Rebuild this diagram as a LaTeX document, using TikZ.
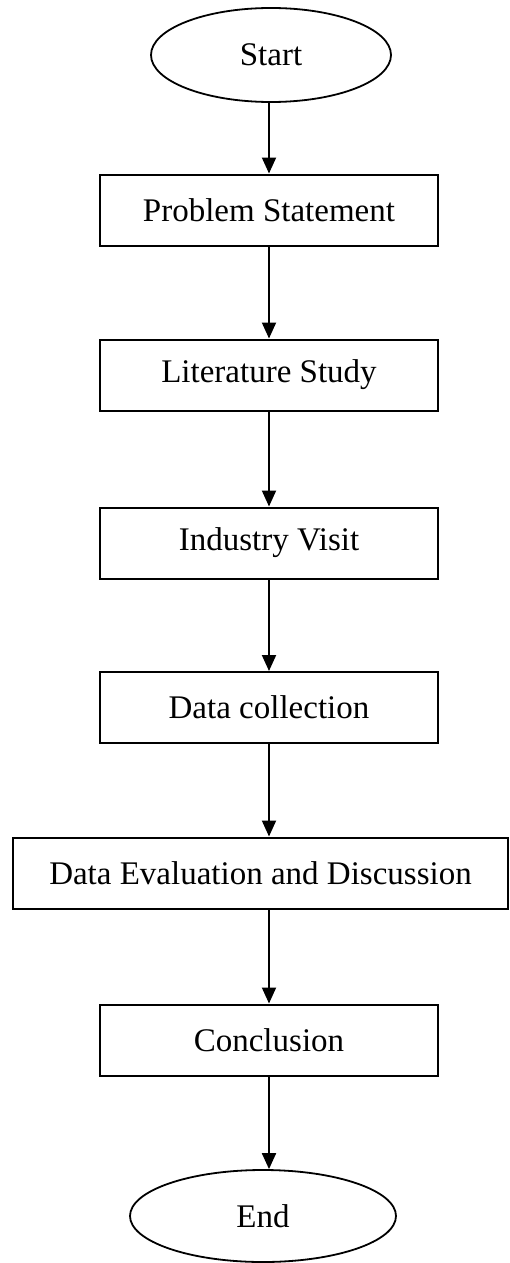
\documentclass[tikz,border=0pt]{standalone}
\usepackage{fontspec}
\setmainfont{Liberation Serif}
\usetikzlibrary{shapes.geometric,arrows.meta}

\tikzset{
  stepbox/.style={draw, line width=1pt, minimum width=169pt, minimum height=35.5pt, inner sep=0pt, font=\fontsize{16.5}{19}\selectfont},
  term/.style={draw, ellipse, line width=0.9pt, inner sep=0pt, font=\fontsize{16.5}{19}\selectfont},
  flow/.style={line width=1pt, -{Triangle[width=7pt,length=8pt]}}
}

\begin{document}
\begin{tikzpicture} [x=0.5pt, y=-0.5pt]
\useasboundingbox (0,0) rectangle (509,1263);
% start and end
\node [term, minimum width=120pt, minimum height=47pt] (start) at (271,55) {Start};
\node [term, minimum width=133pt, minimum height=46pt] (end) at (263,1216) {End};
% steps
\node [stepbox] (problem) at (269,210) {Problem Statement};
\node [stepbox] (literature) at (269,375) {Literature Study};
\node [stepbox] (visit) at (269,543) {Industry Visit};
\node [stepbox] (collection) at (269,707.5) {Data collection};
\node [stepbox, minimum width=247.5pt] (evaluation) at (260.5,873) {Data Evaluation and Discussion};
\node [stepbox] (conclusion) at (269,1040) {Conclusion};
% arrows
\draw [flow] (problem.north |- start.south) -- (problem.north);
\draw [flow] (problem) -- (literature);
\draw [flow] (literature) -- (visit);
\draw [flow] (visit) -- (collection);
\draw [flow] (collection.south) -- (collection.south |- evaluation.north);
\draw [flow] (conclusion.north |- evaluation.south) -- (conclusion.north);
\draw [flow] (conclusion.south) -- (conclusion.south |- end.north);

\end{tikzpicture}
\end{document}
